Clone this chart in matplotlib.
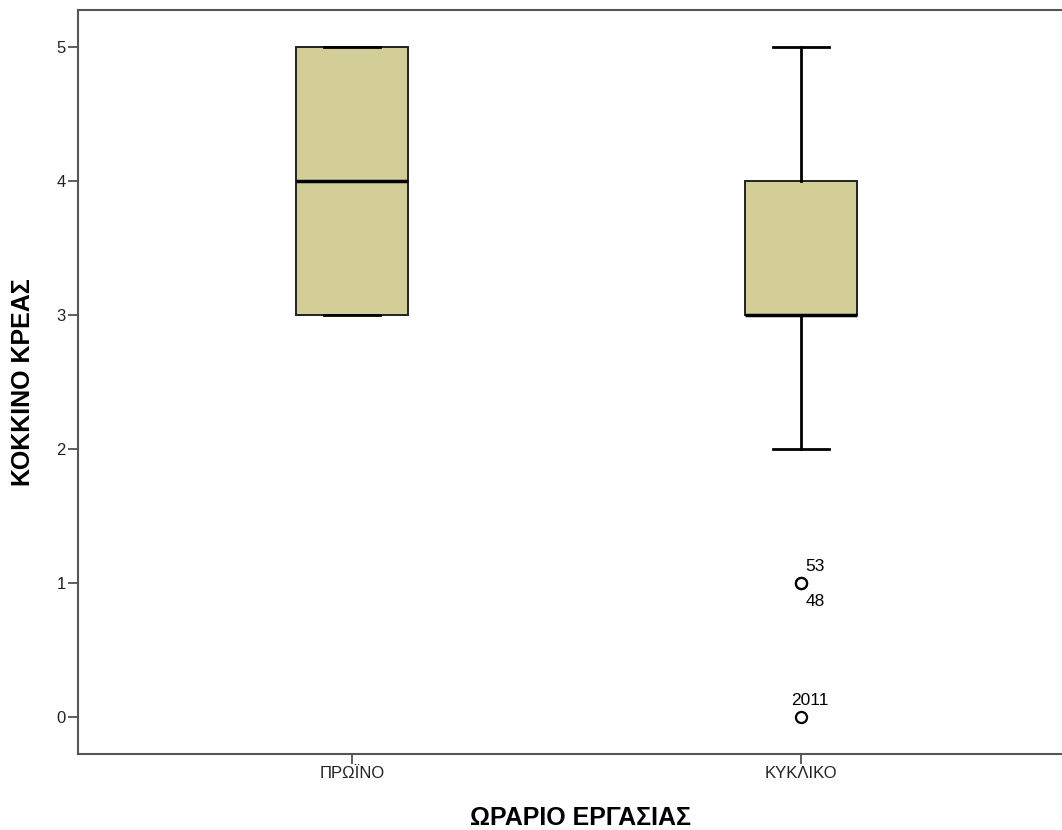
import matplotlib
matplotlib.use("Agg")
import matplotlib.pyplot as plt

plt.rcParams['font.family'] = ['Liberation Sans', 'DejaVu Sans']

categories = ["ΠΡΩΪΝΟ", "ΚΥΚΛΙΚΟ"]
q1 = [3, 3]
medians = [4, 3]
q3 = [5, 4]
whislo = [3, 2]
whishi = [5, 5]
fliers = [[], [1, 1, 0]]
flier_labels = [[], [("53", 1, "above"), ("48", 1, "below"), ("2011", 0, "above")]]

fig = plt.figure(figsize=(10.62, 8.30), dpi=100)
ax = fig.add_axes([78/1062, 1-754/830, 997/1062, 744/830])

stats = []
for i, c in enumerate(categories):
    stats.append(dict(label=c, q1=q1[i], med=medians[i], q3=q3[i],
                      whislo=whislo[i], whishi=whishi[i], fliers=fliers[i]))

positions = [1, 2]
ax.bxp(stats, positions=positions, widths=0.25, patch_artist=True,
       boxprops=dict(facecolor="#D3CE97", edgecolor="#222222", linewidth=1.4),
       medianprops=dict(color="black", linewidth=2.5),
       whiskerprops=dict(color="black", linewidth=2),
       capprops=dict(color="black", linewidth=2),
       capwidths=0.125,
       flierprops=dict(marker="o", markerfacecolor="white", markeredgecolor="black",
                       markersize=8, markeredgewidth=1.6))

for i, labs in enumerate(flier_labels):
    for txt, val, where in labs:
        dy = 0.12 if where == "above" else -0.14
        if len(txt) > 2:
            ax.text(positions[i] + 0.02, val + dy, txt, fontsize=12.5, ha="center", va="center")
        else:
            ax.text(positions[i] + 0.01, val + dy, txt, fontsize=12.5, ha="left", va="center")

ax.set_xlim(0.39, 2.61)
ax.set_ylim(-0.276, 5.276)
ax.set_yticks([0, 1, 2, 3, 4, 5])
ax.set_xticks(positions)
ax.set_xticklabels(categories)
ax.tick_params(axis="both", labelsize=12, direction="out", length=7, width=1.2,
               color="#444444", labelcolor="#222222", pad=2)
for s in ax.spines.values():
    s.set_color("#555555")
    s.set_linewidth(1.5)

fig.text(580/1062, 1-818/830, "ΩΡΑΡΙΟ ΕΡΓΑΣΙΑΣ", fontsize=18, fontweight="bold",
         ha="center", va="center")
fig.text(23/1062, 1-382/830, "ΚΟΚΚΙΝΟ ΚΡΕΑΣ", fontsize=18, fontweight="bold",
         ha="center", va="center", rotation=90)

fig.savefig("out.png", dpi=100, facecolor="white")
